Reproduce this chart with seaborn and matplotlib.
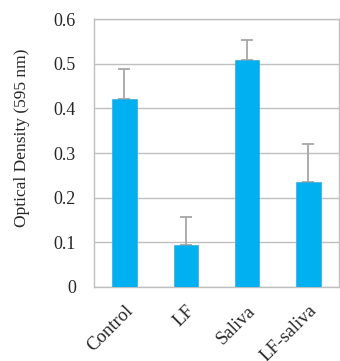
import matplotlib
matplotlib.use("Agg")
import matplotlib.pyplot as plt
import seaborn as sns
import numpy as np

categories = ["Control", "LF", "Saliva", "LF-saliva"]
means = [0.42, 0.095, 0.509, 0.236]
errors = [0.069, 0.061, 0.045, 0.085]
yticks = [0, 0.1, 0.2, 0.3, 0.4, 0.5, 0.6]
ytick_labels = ["0", "0.1", "0.2", "0.3", "0.4", "0.5", "0.6"]

sns.set_style("white")
plt.rcParams["font.family"] = ["Liberation Serif", "DejaVu Serif"]

fig = plt.figure(figsize=(3.4, 3.61), dpi=100)
ax = fig.add_axes([0.276, 0.205, 0.721, 0.742])

sns.barplot(x=categories, y=means, color="#00B0F0", saturation=1,
            width=0.4, errorbar=None, edgecolor="#3FA9D6", linewidth=0.5,
            ax=ax, zorder=3)
ax.errorbar(np.arange(len(categories)), means,
            yerr=[np.zeros(len(errors)), errors], fmt="none",
            ecolor="#A6A6A6", elinewidth=1.3, capsize=4.5, capthick=1.3,
            zorder=2)

ax.set_ylim(0, 0.6)
ax.set_xlim(-0.5, 3.5)
ax.set_yticks(yticks)
ax.set_yticklabels(ytick_labels)
ax.yaxis.grid(True, color="#BFBFBF", linewidth=1.0, zorder=0)
ax.set_axisbelow(True)
ax.tick_params(axis="y", length=0, pad=13, labelsize=13)
ax.tick_params(axis="x", length=0, pad=11, labelsize=13.5)
for lbl in ax.get_xticklabels():
    lbl.set_rotation(45)
    lbl.set_ha("right")
    lbl.set_va("top")
    lbl.set_rotation_mode("anchor")

for side in ["left", "bottom", "right", "top"]:
    ax.spines[side].set_color("#BFBFBF")
    ax.spines[side].set_linewidth(1.0)

ax.set_ylabel("Optical Density (595 nm)", fontsize=12.5)
ax.yaxis.set_label_coords(-0.26, 0.556)

fig.savefig("out.png", dpi=100)
